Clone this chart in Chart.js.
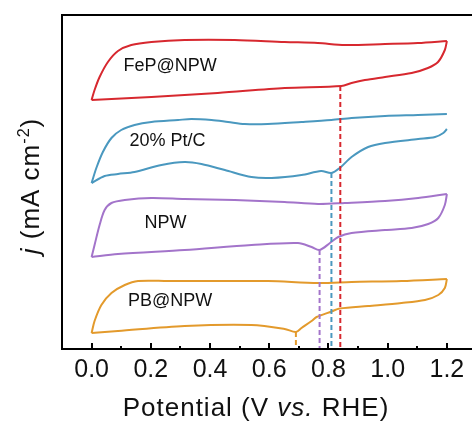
<!DOCTYPE html>
<html>
<head>
<meta charset="utf-8">
<script src="https://cdn.jsdelivr.net/npm/chart.js@4.4.1/dist/chart.umd.min.js"></script>
<style>
  html, body { margin: 0; padding: 0; background: #fff; overflow: hidden; }
  #wrap { position: relative; width: 480px; height: 423px; }
</style>
</head>
<body>
<div id="wrap"><canvas id="cv"></canvas></div>
<script>
// CV scans, [potential (V vs RHE), j (offset, a.u.)]
// forward = anodic sweep 0 -> 1.2 V, reverse = cathodic sweep 1.2 -> 0 V
const fepForward = [[0.00,24.9],[0.010,25.9],[0.027,27.2],[0.055,28.7],[0.089,29.8],[0.134,30.4],[0.202,30.7],[0.314,30.9],[0.483,30.9],[0.652,30.7],[0.764,30.6],[0.855,30.4],[0.991,30.5],[1.102,30.6],[1.20,30.8]]
const fepReverse = [[1.20,30.8],[1.193,29.9],[1.170,28.7],[1.136,28.1],[1.081,27.6],[0.991,27.2],[0.923,26.9],[0.878,26.6],[0.844,26.3],[0.652,26.1],[0.426,25.6],[0.202,25.2],[0.00,24.9]]

const ptForward = [[0.00,16.6],[0.016,18.1],[0.038,19.7],[0.067,21.1],[0.100,21.9],[0.145,22.4],[0.202,22.7],[0.292,22.9],[0.337,23.0],[0.405,22.9],[0.461,22.7],[0.517,22.5],[0.595,22.5],[0.709,22.7],[0.810,22.9],[0.878,23.1],[0.991,23.3],[1.102,23.4],[1.20,23.5]]
const ptReverse = [[1.20,22.0],[1.188,21.6],[1.160,21.2],[1.103,21.0],[0.991,20.6],[0.934,20.2],[0.878,19.2],[0.838,18.1],[0.810,17.6],[0.775,17.8],[0.709,17.4],[0.608,17.1],[0.540,17.2],[0.450,17.9],[0.371,18.5],[0.314,18.7],[0.236,18.4],[0.145,17.7],[0.089,17.5],[0.044,17.3],[0.00,16.6]]

const npwForward = [[0.00,9.2],[0.010,10.4],[0.027,12.4],[0.044,13.9],[0.067,14.6],[0.112,14.9],[0.202,15.1],[0.314,15.0],[0.483,14.9],[0.652,14.7],[0.765,14.5],[0.855,14.6],[0.991,14.8],[1.103,15.1],[1.20,15.5]]
const npwReverse = [[1.20,15.5],[1.193,14.4],[1.171,13.1],[1.137,12.5],[1.081,12.1],[0.991,11.9],[0.878,11.6],[0.833,11.2],[0.805,10.6],[0.770,9.9],[0.743,10.2],[0.697,10.6],[0.540,10.4],[0.314,9.9],[0.089,9.5],[0.00,9.2]]

const pbForward = [[0.00,1.6],[0.010,2.8],[0.033,4.4],[0.067,5.6],[0.112,6.4],[0.157,6.8],[0.258,6.8],[0.427,6.8],[0.596,6.8],[0.765,6.6],[0.878,6.7],[1.047,6.8],[1.20,7.0]]
const pbReverse = [[1.20,7.0],[1.193,6.1],[1.171,5.4],[1.126,4.9],[1.047,4.6],[0.934,4.3],[0.838,4.05],[0.810,3.75],[0.760,3.2],[0.743,2.8],[0.709,2.1],[0.690,1.7],[0.652,2.0],[0.540,2.4],[0.314,2.3],[0.089,1.8],[0.00,1.6]]

// onset of the ORR reduction wave for each sample
const sampleNames = ["FeP@NPW", "20% Pt/C", "NPW", "PB@NPW"]
const onsetV = [0.84, 0.81, 0.77, 0.69]
const onsetJ = [26.3, 17.6, 9.9, 1.7]

const xMajorTicks = [0.0, 0.2, 0.4, 0.6, 0.8, 1.0, 1.2]
const xMinorTicks = [0.1, 0.3, 0.5, 0.7, 0.9, 1.1]

const colors = ["#d7282f", "#4a98bf", "#a374ca", "#e39a2c"]
const labelAt = [[0.108, 28.25], [0.128, 20.8], [0.179, 12.6], [0.123, 4.8]]

const FONT = '"Liberation Sans", Arial, sans-serif'

const scans = [
  [fepForward, fepReverse],
  [ptForward, ptReverse],
  [npwForward, npwReverse],
  [pbForward, pbReverse],
]

const datasets = []
scans.forEach((pair, i) => {
  pair.forEach((branch) => {
    datasets.push({
      data: branch.map((p) => ({ x: p[0], y: p[1] })),
      borderColor: colors[i],
      borderWidth: 2,
      showLine: true,
      pointRadius: 0,
      tension: 0.3,
      fill: false,
    })
  })
  // dashed marker from the onset point down to the axis
  datasets.push({
    data: [{ x: onsetV[i], y: onsetJ[i] }, { x: onsetV[i], y: 0 }],
    borderColor: colors[i],
    borderWidth: 2,
    borderDash: [5, 3],
    showLine: true,
    pointRadius: 0,
    fill: false,
  })
})

// draws mixed italic / superscript text starting at x on baseline y
function drawRich(ctx, parts, x, y, size) {
  let cx = x
  parts.forEach((p) => {
    const fs = p.sup ? size * 0.62 : size
    ctx.font = `${p.italic ? "italic " : ""}${fs}px ${FONT}`
    ctx.fillText(p.text, cx, p.sup ? y - size * 0.4 : y)
    cx += ctx.measureText(p.text).width
  })
  return cx - x
}

function richWidth(ctx, parts, size) {
  let w = 0
  parts.forEach((p) => {
    const fs = p.sup ? size * 0.62 : size
    ctx.font = `${p.italic ? "italic " : ""}${fs}px ${FONT}`
    w += ctx.measureText(p.text).width
  })
  return w
}

const framePlugin = {
  id: "frame",
  afterDraw(chart) {
    const ctx = chart.ctx
    const { left, right, top, bottom } = chart.chartArea
    const xs = chart.scales.x
    const ys = chart.scales.y
    ctx.save()

    // box
    ctx.strokeStyle = "#000"
    ctx.lineWidth = 2
    ctx.strokeRect(left, top, right - left, bottom - top)

    // inward ticks on the potential axis
    ctx.beginPath()
    xMajorTicks.forEach((v) => {
      const px = Math.round(xs.getPixelForValue(v))
      ctx.moveTo(px, bottom)
      ctx.lineTo(px, bottom - 6)
    })
    xMinorTicks.forEach((v) => {
      const px = Math.round(xs.getPixelForValue(v))
      ctx.moveTo(px, bottom)
      ctx.lineTo(px, bottom - 3)
    })
    ctx.stroke()

    // sample labels
    ctx.fillStyle = "#111"
    ctx.textBaseline = "middle"
    ctx.font = `18px ${FONT}`
    sampleNames.forEach((name, i) => {
      ctx.fillText(name, xs.getPixelForValue(labelAt[i][0]), ys.getPixelForValue(labelAt[i][1]))
    })

    // axis titles
    ctx.textBaseline = "alphabetic"
    ctx.letterSpacing = "1px"
    const xTitle = [{ text: "Potential (V " }, { text: "vs.", italic: true }, { text: " RHE)" }]
    const xw = richWidth(ctx, xTitle, 26)
    drawRich(ctx, xTitle, 256 - xw / 2, 416, 26)

    const yTitle = [{ text: "j", italic: true }, { text: " (mA cm" }, { text: "-2", sup: true }, { text: ")" }]
    const yw = richWidth(ctx, yTitle, 26)
    ctx.translate(39, 186)
    ctx.rotate(-Math.PI / 2)
    drawRich(ctx, yTitle, -yw / 2, 0, 26)
    ctx.restore()
  },
}

new Chart(document.getElementById("cv"), {
  type: "scatter",
  data: { datasets },
  options: {
    responsive: true,
    maintainAspectRatio: false,
    animation: false,
    events: [],
    layout: { padding: { top: 15, right: 3.5, left: 0, bottom: 0 } },
    plugins: { legend: { display: false }, tooltip: { enabled: false } },
    scales: {
      x: {
        type: "linear",
        min: -0.1,
        max: 1.3,
        grid: { display: false, drawTicks: false },
        border: { display: false },
        afterBuildTicks: (scale) => {
          scale.ticks = xMajorTicks.map((v) => ({ value: v }))
        },
        afterFit: (scale) => {
          scale.height = 74
        },
        ticks: {
          padding: 6,
          color: "#111",
          font: { family: FONT, size: 25 },
          callback: (v) => Number(v).toFixed(1),
        },
      },
      y: {
        type: "linear",
        min: 0,
        max: 33.4,
        grid: { display: false, drawTicks: false },
        border: { display: false },
        ticks: { display: false },
        afterFit: (scale) => {
          scale.width = 62
        },
      },
    },
  },
  plugins: [framePlugin],
})
</script>
</body>
</html>
